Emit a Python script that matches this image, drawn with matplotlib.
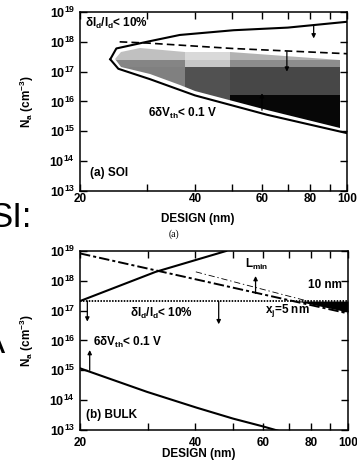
import numpy as np
import matplotlib
matplotlib.use('Agg')
import matplotlib.pyplot as plt
from matplotlib.patches import Polygon
from matplotlib.ticker import FixedLocator, FixedFormatter, NullFormatter

plt.rcParams['font.family'] = ['Liberation Sans', 'DejaVu Sans']
plt.rcParams['font.weight'] = 'bold'
plt.rcParams['axes.labelweight'] = 'bold'
plt.rcParams['mathtext.fontset'] = 'custom'
for k in ['rm', 'it', 'bf', 'sf']:
    plt.rcParams['mathtext.' + k] = 'Liberation Sans:bold'
plt.rcParams['lines.scale_dashes'] = False

# ---------------- data ----------------
x_major = [20, 40, 60, 80, 100]
x_minor = [30, 50, 70, 90]
x_labels = ['20', '40', '60', '80', '100']
y_ticks = [1e13, 1e14, 1e15, 1e16, 1e17, 1e18, 1e19]
y_labels = ['$10^{13}$', '$10^{14}$', '$10^{15}$', '$10^{16}$',
            '$10^{17}$', '$10^{18}$', '$10^{19}$']

# (a) SOI
soi_upper_x = [24.0, 24.9, 29.9, 36.5, 50.5, 70, 100]
soi_upper_y = [2.6e17, 6.0e17, 1.0e18, 1.7e18, 2.45e18, 3.0e18, 4.7e18]
soi_lower_x = [24.0, 25.2, 30.5, 40, 61.7, 100]
soi_lower_y = [2.6e17, 1.25e17, 5.6e16, 1.6e16, 3.6e15, 8.7e14]
soi_dash_x = [25.4, 30, 50, 100]
soi_dash_y = [1.0e18, 9.1e17, 6.0e17, 4.0e17]
soi_fill_top_x = [24.7, 25.6, 28.7, 37.7, 49.4, 95.9]
soi_fill_top_y = [2.6e17, 4.7e17, 6.0e17, 4.7e17, 4.7e17, 2.45e17]
soi_fill_bot_x = [24.7, 25.6, 30.5, 36.5, 40, 61.7, 95.9]
soi_fill_bot_y = [2.6e17, 1.45e17, 8.1e16, 3.5e16, 2.2e16, 5.0e15, 1.26e15]
shade_x_edges = [24, 37.7, 49.4, 96]
shade_y_edges = [1e15, 1.6e16, 1.4e17, 2.5e17, 7e17]
shade_levels = [[0.50, 0.32, 0.03],
                [0.50, 0.32, 0.28],
                [0.52, 0.78, 0.55],
                [0.75, 0.85, 0.70]]
soi_arrow_x = [81.8, 69.6, 59.9]
soi_arrow_from = [3.6e18, 4.7e17, 5.1e15]
soi_arrow_to = [1.3e18, 1.0e17, 1.9e16]

# (b) BULK
bulk_rise_x = [20, 31.5, 48.1]
bulk_rise_y = [2.1e17, 2.0e18, 1.0e19]
bulk_dashdot_x = [20, 100]
bulk_dashdot_y = [8.3e18, 8.1e16]
bulk_thin_x = [40.1, 100]
bulk_thin_y = [2.0e18, 9.3e16]
bulk_dotted_x = [20, 100]
bulk_dotted_y = [2.1e17, 2.1e17]
bulk_vth_x = [20, 29.9, 40.3, 50.2, 60.0, 66.0]
bulk_vth_y = [1.17e15, 1.9e14, 5.6e13, 2.4e13, 1.32e13, 0.93e13]
bulk_wedge_x = [73.5, 100]
bulk_wedge_top = [2.1e17, 2.1e17]
bulk_wedge_bot = [2.1e17, 9.0e16]
bulk_arrow_x = [20.9, 46, 57.4, 21.2]
bulk_arrow_from = [2.1e17, 2.1e17, 3.8e17, 1.0e15]
bulk_arrow_to = [4.3e16, 3.5e16, 1.45e18, 4.8e15]

# ---------------- figure ----------------
W, H = 357, 467
fig = plt.figure(figsize=(W / 100, H / 100), dpi=100)
ax1 = fig.add_axes([80 / W, 1 - 191 / H, 267 / W, 179 / H])
ax2 = fig.add_axes([80 / W, 1 - 430 / H, 268 / W, 179 / H])


def style_axes(ax, xpad):
    ax.set_xscale('log')
    ax.set_yscale('log')
    ax.set_xlim(20, 100)
    ax.set_ylim(1e13, 1e19)
    ax.xaxis.set_major_locator(FixedLocator(x_major))
    ax.xaxis.set_major_formatter(FixedFormatter(x_labels))
    ax.xaxis.set_minor_locator(FixedLocator(x_minor))
    ax.xaxis.set_minor_formatter(NullFormatter())
    ax.yaxis.set_major_locator(FixedLocator(y_ticks))
    ax.yaxis.set_major_formatter(FixedFormatter(y_labels))
    ax.yaxis.set_minor_locator(FixedLocator([]))
    ax.tick_params(which='both', direction='in', top=True, right=True,
                   length=5, width=1.0, labelsize=8.5)
    ax.tick_params(axis='x', which='major', pad=xpad)
    ax.tick_params(axis='y', which='major', pad=3.5, labelsize=9)
    for s in ax.spines.values():
        s.set_linewidth(1.1)
    ax.set_ylabel(r'$N_a$ (cm$^{-3}$)', fontsize=8.5)
    ax.yaxis.set_label_coords(-0.165, 0.5)
    ax.set_xlabel('DESIGN (nm)', fontsize=8.5)


style_axes(ax1, 1.5)
style_axes(ax2, 5)
ax1.xaxis.set_label_coords(0.44, -0.123)
ax2.xaxis.set_label_coords(0.444, -0.10)

# ---- (a) SOI ----
verts = list(zip(soi_fill_top_x, soi_fill_top_y)) + \
    list(zip(soi_fill_bot_x[::-1], soi_fill_bot_y[::-1]))
clip = Polygon(verts, closed=True, transform=ax1.transData)
mesh = ax1.pcolormesh(shade_x_edges, shade_y_edges, np.array(shade_levels),
                      cmap='gray', vmin=0, vmax=1, shading='flat', zorder=1)
mesh.set_clip_path(clip)

ax1.plot(soi_upper_x, soi_upper_y, color='k', lw=1.5, zorder=3)
ax1.plot(soi_lower_x, soi_lower_y, color='k', lw=1.5, zorder=3)
ax1.plot(soi_dash_x, soi_dash_y, color='k', lw=1.2, dashes=(5.5, 3), zorder=3)

arrow_kw = dict(arrowstyle='-|>', color='k', lw=0.9, mutation_scale=6,
                shrinkA=0, shrinkB=0)
for x, y0, y1 in zip(soi_arrow_x, soi_arrow_from, soi_arrow_to):
    ax1.annotate('', xy=(x, y1), xytext=(x, y0), arrowprops=arrow_kw, zorder=4)

ax1.text(20.6, 10 ** 18.63, r'$\delta I_d/I_d$< 10%', fontsize=8.5,
         ha='left', va='center')
ax1.text(30.1, 10 ** 15.61, r'6$\delta V_{th}$< 0.1 V', fontsize=8.5,
         ha='left', va='center')
ax1.text(21.2, 10 ** 13.6, '(a) SOI', fontsize=8.5, ha='left', va='center')

# ---- (b) BULK ----
ax2.fill_between(bulk_wedge_x, bulk_wedge_bot, bulk_wedge_top, color='k',
                 lw=0, zorder=2)
ax2.plot(bulk_rise_x, bulk_rise_y, color='k', lw=1.5, zorder=3)
ax2.plot(bulk_dashdot_x, bulk_dashdot_y, color='k', lw=1.4,
         dashes=(7.5, 2.2, 2.2, 2.2), zorder=3)
ax2.plot(bulk_thin_x, bulk_thin_y, color='k', lw=0.6,
         dashes=(4.5, 2, 1, 2), zorder=3)
ax2.plot(bulk_dotted_x, bulk_dotted_y, color='k', lw=1.3,
         dashes=(1.1, 1.0), zorder=3)
ax2.plot(bulk_vth_x, bulk_vth_y, color='k', lw=1.5, zorder=3)
for x, y0, y1 in zip(bulk_arrow_x, bulk_arrow_from, bulk_arrow_to):
    ax2.annotate('', xy=(x, y1), xytext=(x, y0), arrowprops=arrow_kw, zorder=4)

ax2.text(53.9, 10 ** 18.56, r'$L_{min}$', fontsize=8.5, ha='left', va='center')
ax2.text(96.5, 10 ** 17.86, '10 nm', fontsize=8.5, ha='right', va='center')
ax2.text(60.8, 10 ** 17.02, r'$x_j$=5 nm', fontsize=8.5, ha='left', va='center')
ax2.text(27.0, 10 ** 16.92, r'$\delta I_d/I_d$< 10%', fontsize=8.5,
         ha='left', va='center')
ax2.text(21.6, 10 ** 15.92, r'6$\delta V_{th}$< 0.1 V', fontsize=8.5,
         ha='left', va='center')
ax2.text(20.7, 10 ** 13.5, '(b) BULK', fontsize=8.5, ha='left', va='center')

# ---- surrounding slide text ----
fig.text(174 / W, 1 - 234 / H, '(a)', family='Liberation Serif',
         weight='normal', fontsize=7, ha='center', va='center')
fig.text(-11 / W, 1 - 227 / H, 'SI:', fontsize=25, weight='normal',
         ha='left', va='baseline')
fig.text(5 / W, 1 - 353 / H, 'A', fontsize=25, weight='normal',
         ha='right', va='baseline')

fig.savefig('out.png', dpi=100)
